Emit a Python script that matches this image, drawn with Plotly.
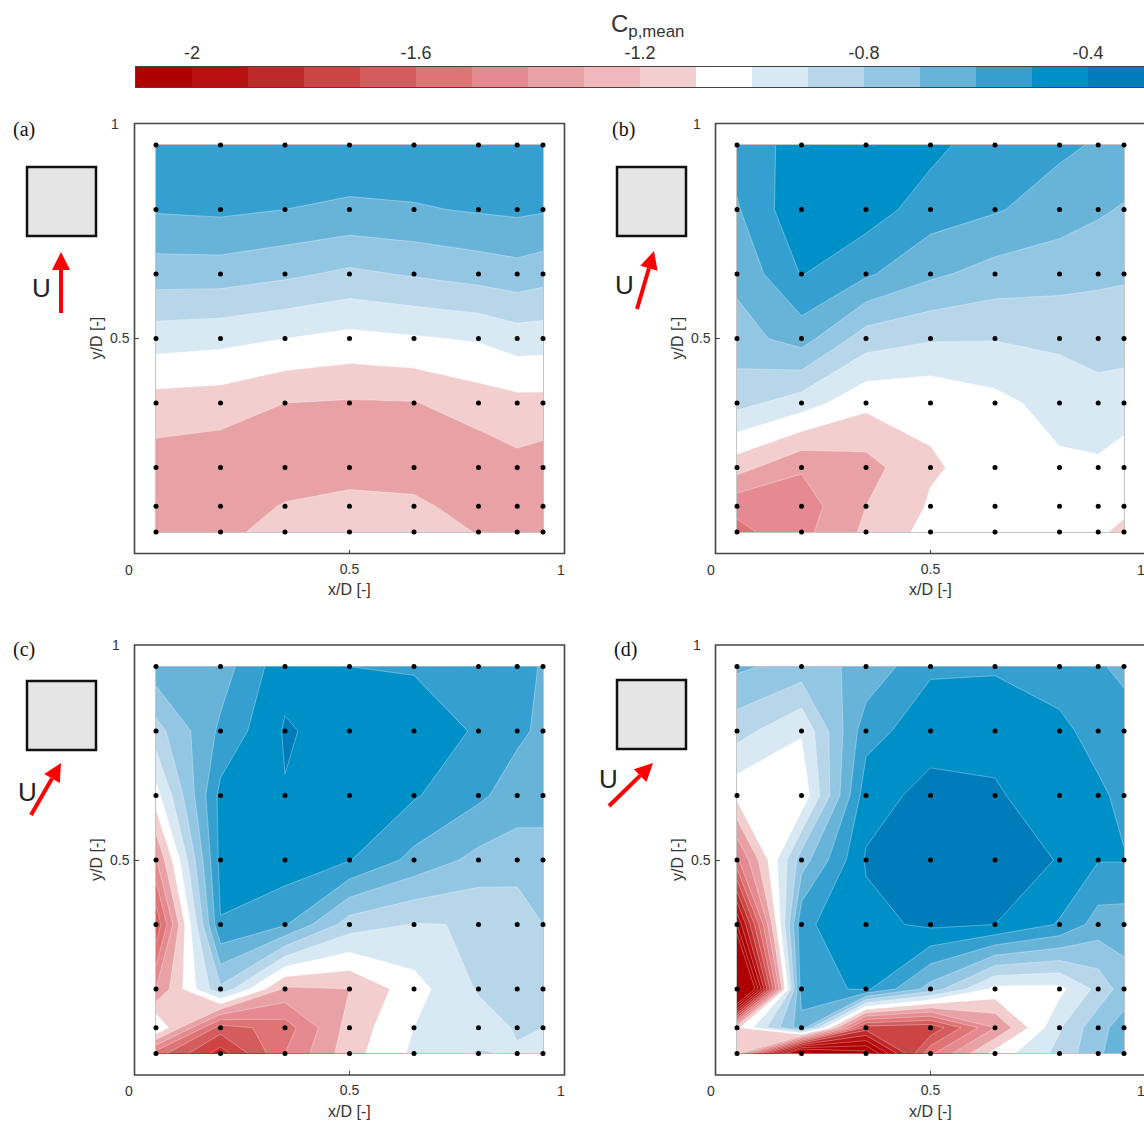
import plotly.graph_objects as go

W, H = 1144, 1122

x_grid = [0.05, 0.2, 0.35, 0.5, 0.65, 0.8, 0.89, 0.95]
y_grid = [0.95, 0.8, 0.65, 0.5, 0.35, 0.2, 0.11, 0.05]

cp_a = [
    [-0.52, -0.52, -0.52, -0.52, -0.52, -0.52, -0.52, -0.52],
    [-0.59, -0.58, -0.60, -0.62, -0.61, -0.59, -0.58, -0.59],
    [-0.75, -0.75, -0.78, -0.82, -0.79, -0.76, -0.74, -0.76],
    [-0.955, -0.97, -1.0, -1.03, -1.01, -0.99, -0.95, -0.955],
    [-1.14, -1.15, -1.2, -1.21, -1.205, -1.15, -1.13, -1.13],
    [-1.25, -1.27, -1.28, -1.28, -1.28, -1.27, -1.23, -1.25],
    [-1.27, -1.27, -1.19, -1.14, -1.165, -1.27, -1.27, -1.27],
    [-1.27, -1.22, -1.17, -1.12, -1.15, -1.205, -1.27, -1.27],
]
cp_b = [
    [-0.56, -0.46, -0.44, -0.47, -0.56, -0.58, -0.61, -0.62],
    [-0.61, -0.42, -0.45, -0.55, -0.59, -0.65, -0.685, -0.71],
    [-0.675, -0.495, -0.585, -0.68, -0.74, -0.76, -0.78, -0.79],
    [-0.74, -0.657, -0.85, -0.89, -0.895, -0.88, -0.86, -0.85],
    [-0.868, -0.95, -1.075, -1.08, -1.03, -0.96, -0.935, -0.96],
    [-1.16, -1.29, -1.24, -1.11, -1.067, -1.02, -1.017, -1.04],
    [-1.37, -1.35, -1.2, -1.09, -1.03, -1.03, -1.04, -1.07],
    [-1.43, -1.33, -1.18, -1.065, -1.03, -1.04, -1.08, -1.13],
]
cp_c = [
    [-0.64, -0.65, -0.432, -0.5, -0.508, -0.55, -0.56, -0.61],
    [-0.84, -0.58, -0.39, -0.44, -0.45, -0.51, -0.58, -0.62],
    [-1.04, -0.47, -0.405, -0.44, -0.49, -0.58, -0.65, -0.66],
    [-1.31, -0.47, -0.44, -0.495, -0.63, -0.73, -0.75, -0.74],
    [-1.58, -0.505, -0.59, -0.85, -0.905, -0.895, -0.87, -0.8],
    [-1.3, -0.82, -1.22, -1.2, -1.04, -0.89, -0.85, -0.83],
    [-0.99, -1.55, -1.45, -1.16, -1.0, -0.95, -0.89, -0.9],
    [-1.45, -1.75, -1.4, -1.14, -0.98, -0.89, -0.91, -0.92],
]
cp_d = [
    [-0.68, -0.74, -0.675, -0.515, -0.51, -0.54, -0.59, -0.62],
    [-0.86, -0.99, -0.54, -0.44, -0.44, -0.48, -0.53, -0.56],
    [-1.07, -1.083, -0.44, -0.37, -0.385, -0.47, -0.485, -0.52],
    [-1.42, -0.75, -0.39, -0.35, -0.35, -0.405, -0.495, -0.495],
    [-2.0, -0.52, -0.43, -0.38, -0.4, -0.51, -0.645, -0.65],
    [-2.7, -0.55, -0.48, -0.74, -1.03, -1.03, -0.87, -0.75],
    [-1.12, -0.64, -1.65, -1.68, -1.3, -0.91, -0.73, -0.66],
    [-1.15, -2.4, -2.15, -1.42, -1.06, -0.87, -0.72, -0.62],
]

band_colors = ["#AE0000", "#B00000", "#B81010", "#BE2A2A", "#CC4444", "#D45C5C",
               "#DE7474", "#E48A90", "#E8A2A6", "#F2CECE", "#FFFFFF", "#D8E9F4",
               "#B8D6EA", "#93C6E2", "#68B4D9", "#35A0D0", "#0090C8", "#007CBB", "#007CBB"]
bar_mids = [-2.05, -1.95, -1.85, -1.75, -1.65, -1.55, -1.45, -1.35, -1.25,
            -1.15, -1.05, -0.95, -0.85, -0.75, -0.65, -0.55, -0.45, -0.35]
bar_colors = ["#AE0000", "#B81010", "#BE2A2A", "#CC4444", "#D45C5C", "#DE7474",
              "#E48A90", "#E8A2A6", "#EEB8BC", "#F2CECE", "#FFFFFF", "#D8E9F4",
              "#B8D6EA", "#93C6E2", "#68B4D9", "#35A0D0", "#0090C8", "#007CBB"]
bar_ticks = [-2, -1.6, -1.2, -0.8, -0.4]

SANS = "Liberation Sans"
SERIF = "Liberation Serif"
INK = "#333333"


def px(x):
    return x / W


def py(y):
    return 1 - y / H


n = len(band_colors)
scale = [[0, band_colors[0]]] + [[(k + 1) / n, c] for k, c in enumerate(band_colors)]

panels = [
    dict(tag="(a)", z=cp_a, L=134.5, T=123.5, lab=(24, 129), sq=(27, 167), u=(41, 288),
         arrow=((61, 313), (61, 252)), yt=115, ytitle=96, x0=129, x1=561),
    dict(tag="(b)", z=cp_b, L=715.5, T=123.5, lab=(623, 129), sq=(617, 167), u=(624, 285),
         arrow=((637, 309), (654, 251)), yt=697, ytitle=677, x0=711, x1=1141),
    dict(tag="(c)", z=cp_c, L=134.5, T=645, lab=(24, 649), sq=(27, 681), u=(27, 792),
         arrow=((31, 815), (61, 763)), yt=116, ytitle=96, x0=129, x1=561),
    dict(tag="(d)", z=cp_d, L=715.5, T=645, lab=(625, 649), sq=(617, 680), u=(609, 779),
         arrow=((609, 806), (653, 763)), yt=697, ytitle=677, x0=711, x1=1141),
]
SIZE = 430

fig = go.Figure()
shapes, notes = [], []


def text(s, x, y, size=14, family=SANS, color=INK, textangle=0):
    notes.append(dict(text=s, x=px(x), y=py(y), xref="paper", yref="paper",
                      showarrow=False, xanchor="center", yanchor="middle",
                      textangle=textangle, font=dict(size=size, family=family, color=color)))


for i, p in enumerate(panels, start=1):
    L, T = p["L"], p["T"]
    xa = "x" if i == 1 else f"x{i}"
    ya = "y" if i == 1 else f"y{i}"
    R = min(L + SIZE, W)
    xdom = [px(L), px(R)]
    ydom = [py(T + SIZE), py(T)]
    axis = dict(
        domain=xdom, range=[0, (R - L) / SIZE], tickvals=[0.5], ticktext=["0.5"],
        ticks="inside", ticklen=4, tickwidth=1, tickcolor="#444444", showgrid=False,
        zeroline=False, showline=False, anchor=ya, ticklabelstandoff=5,
        tickfont=dict(size=14, family=SANS, color=INK),
    )
    yaxis = dict(
        domain=ydom, range=[0, 1], tickvals=[0.5], ticktext=["0.5"],
        ticks="inside", ticklen=4, tickwidth=1, tickcolor="#444444", showgrid=False,
        zeroline=False, showline=False, anchor=xa, ticklabelstandoff=4,
        tickfont=dict(size=14, family=SANS, color=INK),
    )
    fig.update_layout({f"xaxis{'' if i == 1 else i}": axis, f"yaxis{'' if i == 1 else i}": yaxis})

    fig.add_trace(go.Contour(
        x=x_grid, y=y_grid[::-1], z=p["z"][::-1], xaxis=xa, yaxis=ya,
        colorscale=scale, showscale=False, autocontour=False,
        contours=dict(start=-2.1, end=-0.3, size=0.1, coloring="fill", showlines=True),
        line=dict(color="rgba(255,255,255,0.55)", width=0.6, smoothing=0),
        hoverinfo="skip",
    ))
    fig.add_trace(go.Scatter(
        x=[xv for _ in y_grid for xv in x_grid],
        y=[yv for yv in y_grid for _ in x_grid],
        xaxis=xa, yaxis=ya, mode="markers", showlegend=False, hoverinfo="skip",
        marker=dict(size=5, color="black"),
    ))

    # data outline
    shapes.append(dict(type="rect", xref=xa, yref=ya, x0=x_grid[0], x1=x_grid[-1],
                       y0=y_grid[-1], y1=y_grid[0], layer="below",
                       line=dict(color="rgba(90,90,90,0.7)", width=1)))
    # axes box (runs past the page edge on the right-hand panels)
    shapes.append(dict(type="rect", xref="paper", yref="paper", x0=px(L), x1=px(L + SIZE),
                       y0=py(T + SIZE), y1=py(T), line=dict(color="#444444", width=1.6)))

    # inset square
    sx, sy = p["sq"]
    shapes.append(dict(type="rect", xref="paper", yref="paper", x0=px(sx), x1=px(sx + 69),
                       y0=py(sy + 69), y1=py(sy), fillcolor="#E5E5E5",
                       line=dict(color="#111111", width=2.5)))
    # inflow arrow
    (tx, ty), (hx, hy) = p["arrow"]
    length = ((hx - tx) ** 2 + (hy - ty) ** 2) ** 0.5
    ux, uy = (hx - tx) / length, (hy - ty) / length
    bx, by = hx - 18 * ux, hy - 18 * uy
    nx, ny = -uy, ux
    shapes.append(dict(type="line", xref="paper", yref="paper", x0=px(tx), y0=py(ty),
                       x1=px(bx), y1=py(by), line=dict(color="#FF0000", width=4)))
    head = (f"M {px(hx)} {py(hy)} L {px(bx + 9 * nx)} {py(by + 9 * ny)} "
            f"L {px(bx - 9 * nx)} {py(by - 9 * ny)} Z")
    shapes.append(dict(type="path", xref="paper", yref="paper", path=head,
                       fillcolor="#FF0000", line=dict(color="#FF0000", width=0)))

    text("U", p["u"][0], p["u"][1], size=26, color="#222222")
    text(p["tag"], p["lab"][0], p["lab"][1], size=20, family=SERIF, color="#111111")
    ymid = T + SIZE / 2
    text("1", p["yt"], T, size=14)
    text("0", p["x0"], T + SIZE + 16, size=14)
    text("1", p["x1"], T + SIZE + 16, size=14)
    text("x/D [-]", L + 214.5, T + SIZE + 36, size=16)
    text("y/D [-]", p["ytitle"], ymid, size=16, textangle=-90)

# colour bar
fig.add_trace(go.Heatmap(
    x=bar_mids, y=[0], z=[bar_mids], xaxis="x5", yaxis="y5", showscale=False,
    colorscale=[[k / (len(bar_colors) - 1), c] for k, c in enumerate(bar_colors)],
    zmin=bar_mids[0], zmax=bar_mids[-1], hoverinfo="skip",
))
fig.update_layout(
    xaxis5=dict(domain=[px(136), 1], range=[-2.1, -0.3], side="top", anchor="y5",
                tickvals=bar_ticks, ticktext=[str(t) for t in bar_ticks], ticks="",
                showgrid=False, zeroline=False, showline=True, linecolor="#444444",
                mirror=True, ticklabelstandoff=0,
                tickfont=dict(size=18, family=SANS, color=INK)),
    yaxis5=dict(domain=[py(87), py(67)], range=[-0.5, 0.5], anchor="x5", showticklabels=False,
                ticks="", showgrid=False, zeroline=False, showline=True,
                linecolor="#444444", mirror=True),
)
notes.append(dict(text="C<sub>p,mean</sub>", x=px(647), y=py(25), xref="paper", yref="paper",
                  showarrow=False, xanchor="center", yanchor="middle",
                  font=dict(size=24, family=SANS, color=INK)))

fig.update_layout(width=W, height=H, margin=dict(l=0, r=0, t=0, b=0),
                  paper_bgcolor="white", plot_bgcolor="white", showlegend=False,
                  shapes=shapes, annotations=notes)
fig.write_html("out.html", config={"displayModeBar": False}, post_script=(
    "document.body.style.margin='0';document.body.style.overflow='hidden';"
    "document.documentElement.style.overflow='hidden';"))
